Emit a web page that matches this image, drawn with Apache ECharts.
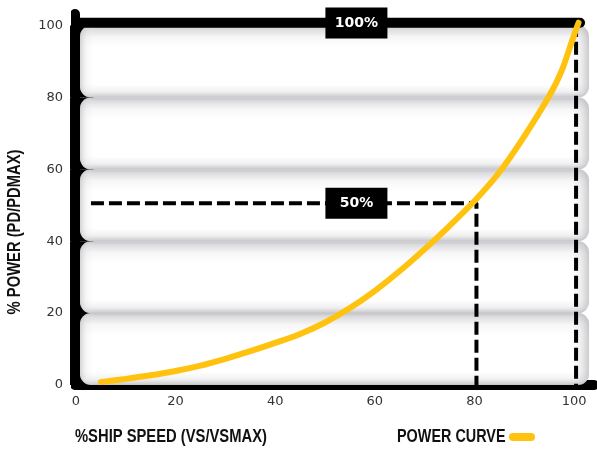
<!DOCTYPE html>
<html>
<head>
<meta charset="utf-8">
<script src="https://cdn.jsdelivr.net/npm/echarts@6/dist/echarts.min.js"></script>
<style>html,body{margin:0;padding:0;background:#fff}#c{width:597px;height:454px}</style>
</head>
<body>
<div id="c"></div>
<script>
// ---- data ----
var speed = [5, 10, 15, 20, 25, 30, 35, 40, 45, 50, 55, 60, 65, 70, 75, 80, 85, 90, 95, 97.5, 100, 100.9];
var power = [0.8, 1.7, 2.7, 3.9, 5.4, 7.3, 9.4, 11.7, 14.2, 17.4, 21.4, 26.2, 31.7, 37.8, 44.3, 51.2, 59.2, 69.2, 80.4, 87.4, 97.4, 100.8];
var xTicks = [0, 20, 40, 60, 80, 100];
var yTicks = [0, 20, 40, 60, 80, 100];
var bands = [[0, 20], [20, 40], [40, 60], [60, 80], [80, 100]];
var guide50 = [[3, 50.6], [80.4, 50.6], [80.4, 0]];
var guide100 = [[100.4, 100.5], [100.4, 0]];
var frameLeft = [[-0.2, 0], [-0.2, 103.2]];
var frameTop = [[-0.2, 100.8], [101.2, 100.8]];
var markLabels = [[56.3, 100.7, '100%'], [56.3, 50.6, '50%']];
var xTitle = '%SHIP SPEED (VS/VSMAX)';
var yTitle = '% POWER (PD/PDMAX)';
var seriesName = 'POWER CURVE';

var condFont = 'bold 18px "Liberation Sans", Arial, sans-serif';
var yellow = '#FFC20E';

var chart = echarts.init(document.getElementById('c'));

function renderBand(params, api) {
  var lo = api.value(0), hi = api.value(1);
  var p1 = api.coord([0.8, hi]);
  var p2 = api.coord([103, lo]);
  var b1 = api.coord([-1.2, hi]);
  var b2 = api.coord([3.5, lo]);
  var shape = {x: p1[0], y: p1[1], width: p2[0] - p1[0], height: p2[1] - p1[1], r: 11};
  return {
    type: 'group',
    children: [
      {type: 'rect', shape: {x: b1[0], y: b1[1], width: b2[0] - b1[0], height: b2[1] - b1[1]}, style: {fill: '#000'}},
      {type: 'rect', shape: shape, style: {
        fill: new echarts.graphic.LinearGradient(0, 0, 0, 1, [
          {offset: 0, color: '#c4c4c8'},
          {offset: 0.05, color: '#dcdcdf'},
          {offset: 0.16, color: '#f6f6f6'},
          {offset: 0.3, color: '#ffffff'},
          {offset: 0.82, color: '#ffffff'},
          {offset: 0.92, color: '#f0f0f1'},
          {offset: 0.97, color: '#d8d8db'},
          {offset: 1, color: '#c4c4c9'}
        ])
      }},
      {type: 'rect', shape: shape, style: {
        fill: new echarts.graphic.LinearGradient(0, 0, 1, 0, [
          {offset: 0, color: 'rgba(170,170,175,0.5)'},
          {offset: 0.012, color: 'rgba(210,210,212,0.22)'},
          {offset: 0.03, color: 'rgba(255,255,255,0)'},
          {offset: 0.965, color: 'rgba(255,255,255,0)'},
          {offset: 0.985, color: 'rgba(190,190,195,0.3)'},
          {offset: 1, color: 'rgba(160,160,165,0.55)'}
        ])
      }}
    ]
  };
}

chart.setOption({
  animation: false,
  backgroundColor: '#fff',
  legend: {
    left: 509, top: 433, padding: 0,
    itemWidth: 26, itemHeight: 8,
    data: [{name: seriesName, icon: 'path://M4,0 H22 A4,4 0 0 1 22,8 H4 A4,4 0 0 1 4,0 Z'}],
    formatter: function () { return ''; },
    textStyle: {fontSize: 1}
  },
  graphic: [
    {type: 'text', x: 75, y: 437, scaleX: 0.82, z: 10,
      style: {text: xTitle, font: condFont, fill: '#111', align: 'left', verticalAlign: 'middle'}},
    {type: 'text', x: 397, y: 437, scaleX: 0.8, z: 10,
      style: {text: seriesName, font: condFont, fill: '#111', align: 'left', verticalAlign: 'middle'}},
    {type: 'text', x: 15, y: 232, rotation: Math.PI / 2, scaleX: 0.82, z: 10,
      style: {text: yTitle, font: condFont, fill: '#111', align: 'center', verticalAlign: 'middle'}}
  ],
  grid: {left: 76, right: 0, top: 22, bottom: 69, containLabel: false},
  xAxis: {
    type: 'value', min: 0, max: 104, interval: 20,
    axisLine: {show: true, lineStyle: {color: '#000', width: 10}},
    axisTick: {show: false}, splitLine: {show: false},
    axisLabel: {
      margin: 10, color: '#333', fontSize: 13, fontFamily: 'DejaVu Sans',
      formatter: function (v) { return xTicks.indexOf(v) >= 0 ? String(v) : ''; }
    }
  },
  yAxis: {
    type: 'value', min: 0, max: 101, interval: 20,
    axisLine: {show: false}, axisTick: {show: false}, splitLine: {show: false},
    axisLabel: {
      margin: 13, color: '#333', fontSize: 13, fontFamily: 'DejaVu Sans',
      formatter: function (v) { return yTicks.indexOf(v) >= 0 ? String(v) : ''; }
    }
  },
  series: [
    {type: 'custom', renderItem: renderBand, data: bands, clip: false, silent: true, z: 1},
    {type: 'line', data: frameLeft, symbol: 'none', clip: false, silent: true, z: 3,
      lineStyle: {color: '#000', width: 10, cap: 'round'}},
    {type: 'line', data: frameTop, symbol: 'none', clip: false, silent: true, z: 3,
      lineStyle: {color: '#000', width: 10, cap: 'round'}},
    {type: 'line', data: guide50, symbol: 'none', clip: false, silent: true, z: 4,
      lineStyle: {color: '#000', width: 4, type: [13, 5]}},
    {type: 'line', data: guide100, symbol: 'none', clip: false, silent: true, z: 4,
      lineStyle: {color: '#000', width: 4, type: [13, 5]}},
    {type: 'line', name: seriesName, data: speed.map(function (s, i) { return [s, power[i]]; }),
      smooth: 0.3, symbol: 'none', clip: false, z: 6, color: yellow,
      lineStyle: {color: yellow, width: 6, cap: 'round'}},
    {type: 'scatter', data: markLabels, symbol: 'rect', symbolSize: [62, 31], clip: false, z: 7,
      itemStyle: {color: '#000', opacity: 1},
      label: {show: true, position: 'inside', color: '#fff', fontWeight: 'bold', fontSize: 14, fontFamily: 'DejaVu Sans',
        formatter: function (p) { return p.value[2]; }}}
  ]
});
</script>
</body>
</html>
